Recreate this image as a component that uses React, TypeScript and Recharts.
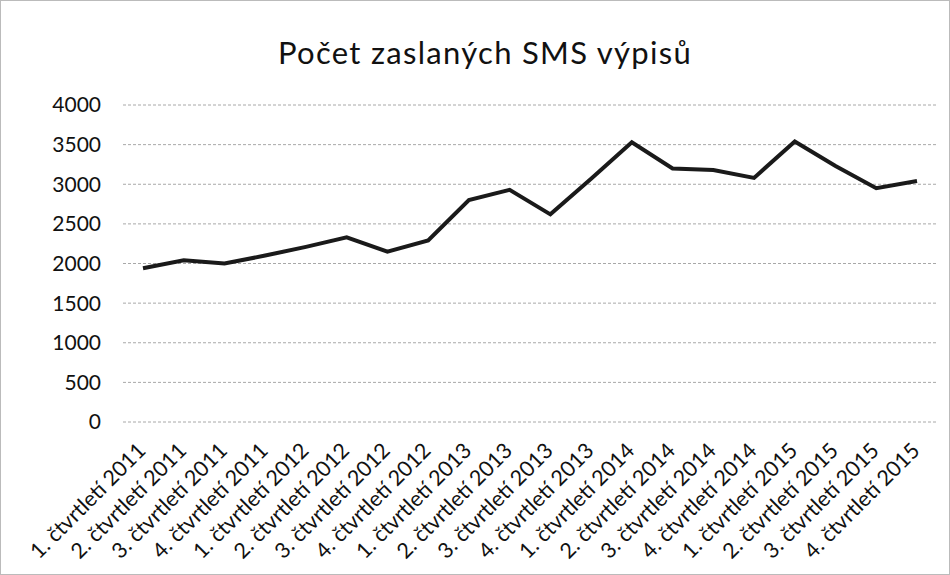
import React from "react";
import { LineChart, Line, XAxis, YAxis, CartesianGrid } from "recharts";

const quarters = [
  "1. čtvrtletí 2011", "2. čtvrtletí 2011", "3. čtvrtletí 2011", "4. čtvrtletí 2011",
  "1. čtvrtletí 2012", "2. čtvrtletí 2012", "3. čtvrtletí 2012", "4. čtvrtletí 2012",
  "1. čtvrtletí 2013", "2. čtvrtletí 2013", "3. čtvrtletí 2013", "4. čtvrtletí 2013",
  "1. čtvrtletí 2014", "2. čtvrtletí 2014", "3. čtvrtletí 2014", "4. čtvrtletí 2014",
  "1. čtvrtletí 2015", "2. čtvrtletí 2015", "3. čtvrtletí 2015", "4. čtvrtletí 2015",
];

const smsCounts = [
  1940, 2040, 2000, 2100, 2210, 2330, 2150, 2290, 2800, 2930,
  2620, 3070, 3530, 3200, 3180, 3080, 3540, 3230, 2950, 3040,
];

const yTicks = [0, 500, 1000, 1500, 2000, 2500, 3000, 3500, 4000];

const title = "Počet zaslaných SMS výpisů";

const data = quarters.map((q, i) => ({ q, count: smsCounts[i] }));

const FONT = "Lato, 'Open Sans', sans-serif";

function QuarterTick(props: any) {
  const { x, y, payload } = props;
  return (
    <g transform={`translate(${x + 4},${y + 22})`}>
      <text
        textAnchor="end"
        transform="rotate(-45)"
        fill="#111"
        fontSize={21.5}
        fontFamily={FONT}
      >
        {payload.value}
      </text>
    </g>
  );
}

export default function App() {
  return (
    <div
      style={{
        position: "absolute",
        left: 0,
        top: 0,
        width: 950,
        height: 575,
        background: "#fff",
        boxSizing: "border-box",
        border: "1px solid #bbb",
        fontFamily: FONT,
      }}
    >
      <svg
        width={950}
        height={90}
        style={{ position: "absolute", left: 0, top: 0 }}
      >
        <text
          x={484}
          y={63}
          textAnchor="middle"
          fontSize={31}
          letterSpacing={1.3}
          fontFamily={FONT}
          fill="#111"
        >
          {title}
        </text>
      </svg>
      <LineChart
        width={950}
        height={575}
        data={data}
        margin={{ top: 104, right: 14, bottom: 153, left: 22 }}
      >
        <CartesianGrid vertical={false} stroke="#a8a8a8" strokeDasharray="3 2" />
        <XAxis
          dataKey="q"
          interval={0}
          axisLine={false}
          tickLine={false}
          tick={<QuarterTick />}
          padding={{ left: 20, right: 20 }}
          height={1}
        />
        <YAxis
          domain={[0, 4000]}
          ticks={yTicks}
          axisLine={false}
          tickLine={false}
          width={100}
          tickMargin={16}
          tick={{ fill: "#111", fontSize: 21, fontFamily: FONT }}
        />
        <Line
          type="linear"
          dataKey="count"
          stroke="#1a1a1a"
          strokeWidth={4}
          dot={false}
          isAnimationActive={false}
        />
      </LineChart>
    </div>
  );
}
